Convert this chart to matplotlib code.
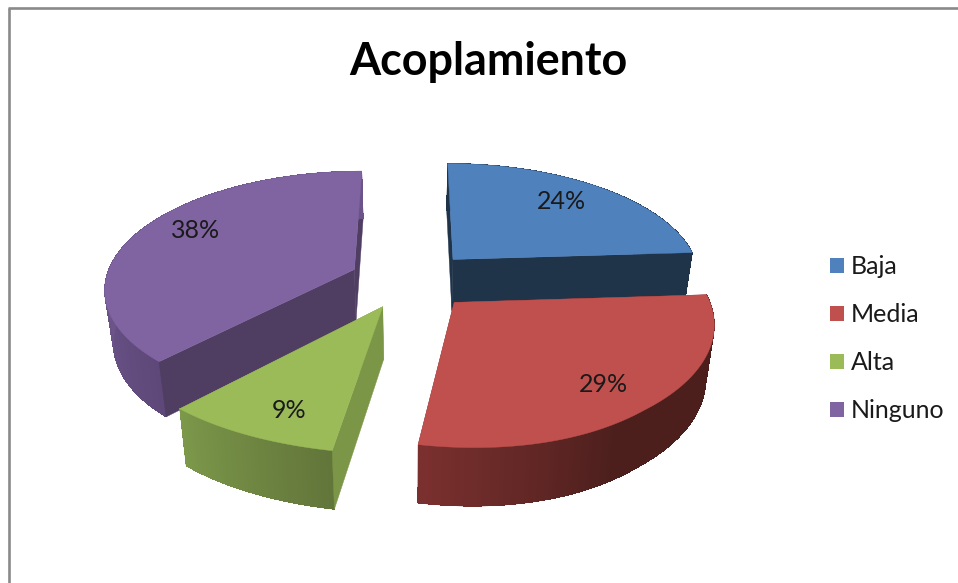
import numpy as np
import matplotlib
matplotlib.use("Agg")
import matplotlib.pyplot as plt
from matplotlib.patches import Patch
from matplotlib.collections import PolyCollection
from matplotlib.colors import to_rgb

# --- data ---
categories = ["Baja", "Media", "Alta", "Ninguno"]
percent = [24, 29, 9, 38]
title = "Acoplamiento"

# --- style ---
top_colors = ["#4F81BD", "#C0504D", "#9BBB59", "#8064A2"]
wall_colors = ["#1F3349", "#7A302E", "#7B9646", "#4F3D62"]
outer_stops = [
    [(0, "#1F3349"), (1, "#1F3349")],
    [(0, "#4C1F1D"), (0.6, "#4C1F1D"), (1, "#7A302E")],
    [(0, "#62753A"), (1, "#7C984A")],
    [(0, "#5E4879"), (0.3, "#6C5489"), (1, "#6C5489")],
]
label_shift = [(-4, -2), (5, 6), (3, 11), (3, -9)]
draw_order = [0, 3, 2, 1]
front_wall = {0: -1, 2: 0, 3: 0}

# projection of the exploded pie's plane on to the picture
cx, cy, R, S, k = 411.5, 280.0, 249.0, 116.0, 0.15
explode = 0.25
thick = 52.0


def project(X, Y):
    X, Y = np.asarray(X, float), np.asarray(Y, float)
    d = 1 + k * Y
    bow = 14 * np.clip(1 - (X / 0.8) ** 2, 0, 1) * (np.minimum(Y, 0) / 1.2) ** 2
    return cx + R * X / d + bow, cy - S * Y / d, d


def lower(sx, sy, d):
    return cx + (sx - cx) * 0.972, sy + thick / d ** 0.6


def shade(stops, t):
    xs = [s[0] for s in stops]
    cols = np.array([to_rgb(s[1]) for s in stops])
    return [np.interp(t, xs, cols[:, i]) for i in range(3)]


fig = plt.figure(figsize=(9.58, 5.83), dpi=100, facecolor="white")
ax = fig.add_axes([0, 0, 1, 1])
ax.set_xlim(0, 958)
ax.set_ylim(583, 0)
ax.axis("off")

ax.plot([8.7, 8.7], [8, 583], color="#8A8A8A", lw=1.9, solid_capstyle="butt")
ax.plot([8, 958], [8, 8], color="#8A8A8A", lw=1.9, solid_capstyle="butt")

fractions = np.array(percent, float) / sum(percent)
edges = np.concatenate([[0], np.cumsum(fractions)]) * 2 * np.pi

z = 2.0
for i in draw_order:
    a0, a1 = edges[i], edges[i + 1]
    mid = (a0 + a1) / 2
    ox, oy = explode * np.sin(mid), explode * np.cos(mid)
    ang = np.linspace(a0, a1, 120)
    X, Y = ox + np.sin(ang), oy + np.cos(ang)
    sx, sy, d = project(X, Y)
    lx, ly = lower(sx, sy, d)
    ax_, ay_, ad_ = project(ox, oy)
    alx, aly = lower(ax_, ay_, ad_)

    def radial(end, zo):
        ax.fill([ax_, sx[end], lx[end], alx], [ay_, sy[end], ly[end], aly],
                facecolor=wall_colors[i], edgecolor=wall_colors[i], lw=0.3, zorder=zo)

    # back radial wall(s)
    for end in (0, -1):
        if front_wall.get(i) != end:
            radial(end, z)
    # outer curved wall: a flat base, then the gradient over it
    base = shade(outer_stops[i], 0.5)
    ax.fill(np.r_[sx, lx[::-1]], np.r_[sy, ly[::-1]], facecolor=base, edgecolor=base, lw=0.3, zorder=z + 0.1)
    quads, cols = [], []
    for j in range(len(ang) - 1):
        quads.append([(sx[j], sy[j]), (sx[j + 1], sy[j + 1]), (lx[j + 1], ly[j + 1]), (lx[j], ly[j])])
        cols.append(shade(outer_stops[i], j / (len(ang) - 2)))
    ax.add_collection(PolyCollection(quads, facecolors=cols, edgecolors="none", antialiaseds=False, zorder=z + 0.2))
    # front radial wall
    if i in front_wall:
        radial(front_wall[i], z + 0.3)
    # top face
    ax.fill(np.r_[ax_, sx], np.r_[ay_, sy], facecolor=top_colors[i], edgecolor=top_colors[i], lw=0.3, zorder=z + 0.4)
    z += 1

    # label
    X_l, Y_l = ox + 0.75 * np.sin(mid), oy + 0.75 * np.cos(mid)
    tx, ty, _ = project(X_l, Y_l)
    ax.text(tx + label_shift[i][0], ty + label_shift[i][1], f"{percent[i]}%", family="Lato",
            fontsize=18, color="#1A1A1A", ha="center", va="center", zorder=20)

ax.text(488.5, 62, title, family="Lato", fontweight="bold", fontsize=32.3,
        color="black", ha="center", va="center", zorder=20)

handles = [Patch(facecolor=c, edgecolor="none", label=n) for c, n in zip(top_colors, categories)]
ax.legend(handles=handles, loc="center left", bbox_to_anchor=(830, 339), bbox_transform=ax.transData,
          frameon=False, prop={"family": "Lato", "size": 18}, labelcolor="#1A1A1A",
          handlelength=0.58, handleheight=0.58, handletextpad=0.26, labelspacing=1.0, borderpad=0, borderaxespad=0)

fig.savefig("out.png", dpi=100, facecolor="white")
